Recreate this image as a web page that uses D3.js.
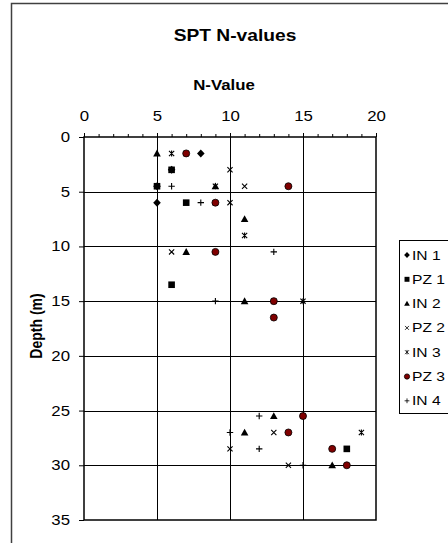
<!DOCTYPE html>
<html>
<head>
<meta charset="utf-8">
<script src="https://cdn.jsdelivr.net/npm/d3@7"></script>
<style>
  body { margin: 0; background: #fff; }
  svg { display: block; font-family: Arial, "Liberation Sans", sans-serif; }
</style>
</head>
<body>
<svg id="chart" width="448" height="543"></svg>
<script>
// series: [N-value, depth]
var in1 = [[8, 1.5], [6, 3], [5, 4.5], [5, 6]];
var pz1 = [[6, 3], [5, 4.5], [7, 6], [6, 13.5], [18, 28.5]];
var in2 = [[5, 1.5], [9, 4.5], [11, 7.5], [7, 10.5], [11, 15], [13, 25.5], [11, 27], [17, 30]];
var pz2 = [[7, 1.5], [10, 3], [11, 4.5], [10, 6], [6, 10.5], [13, 15], [15, 25.5], [13, 27], [10, 28.5], [14, 30]];
var in3 = [[6, 1.5], [9, 4.5], [9, 6], [11, 9], [15, 15], [19, 27]];
var pz3 = [[7, 1.5], [14, 4.5], [9, 6], [9, 10.5], [13, 15], [13, 16.5], [15, 25.5], [14, 27], [17, 28.5], [18, 30]];
var in4 = [[6, 4.5], [8, 6], [13, 10.5], [9, 15], [12, 25.5], [10, 27], [12, 28.5], [15, 30]];

var seriesNames = ["IN 1", "PZ 1", "IN 2", "PZ 2", "IN 3", "PZ 3", "IN 4"];
var seriesData = [in1, pz1, in2, pz2, in3, pz3, in4];
var seriesShapes = ["diamond", "square", "triangle", "cross", "star", "circle", "plus"];

var xTicks = [0, 5, 10, 15, 20];
var yTicks = [0, 5, 10, 15, 20, 25, 30, 35];

var sx = 1.2; // the original picture is a bit stretched sideways

var svg = d3.select("#chart");

// outer chart frame
svg.append("rect")
   .attr("x", 11.5).attr("y", 3.5)
   .attr("width", 460).attr("height", 560)
   .attr("fill", "#fff")
   .attr("stroke", "#404040")
   .attr("stroke-width", 1.5);

var x = d3.scaleLinear().domain([0, 20]).range([84, 376]);
var y = d3.scaleLinear().domain([0, 35]).range([137, 520]);

// grid
var grid = svg.append("g").attr("stroke", "#000").attr("stroke-width", 1);
grid.selectAll("line.v")
   .data([5, 10, 15])
   .enter().append("line")
   .attr("x1", d => Math.round(x(d)) + 0.5).attr("x2", d => Math.round(x(d)) + 0.5)
   .attr("y1", y(0)).attr("y2", y(35));
grid.selectAll("line.h")
   .data([5, 10, 15, 20, 25, 30])
   .enter().append("line")
   .attr("y1", d => Math.round(y(d)) + 0.5).attr("y2", d => Math.round(y(d)) + 0.5)
   .attr("x1", x(0)).attr("x2", x(20));

// plot border
svg.append("rect")
   .attr("x", x(0)).attr("y", y(0))
   .attr("width", x(20) - x(0)).attr("height", y(35) - y(0))
   .attr("fill", "none").attr("stroke", "#000").attr("stroke-width", 1.5);

// top axis (minor ticks every 1)
svg.append("g")
   .attr("transform", "translate(0," + y(0) + ")")
   .call(d3.axisTop(x).tickValues(d3.range(0, 21)).tickSize(3).tickFormat(""))
   .call(g => g.select(".domain").remove());
svg.append("g")
   .attr("transform", "translate(0," + y(0) + ")")
   .call(d3.axisTop(x).tickValues(xTicks).tickSize(4).tickPadding(12))
   .call(g => g.select(".domain").remove())
   .call(g => g.selectAll("text")
      .attr("font-size", 14).attr("fill", "#000").attr("font-family", null)
      .attr("transform", "scale(" + sx + ",1)"));

// left axis
svg.append("g")
   .attr("transform", "translate(" + x(0) + ",0)")
   .call(d3.axisLeft(y).tickValues(yTicks).tickSize(5))
   .call(g => g.select(".domain").remove())
   .call(g => g.selectAll("text")
      .attr("x", 0)
      .attr("font-size", 14).attr("fill", "#000").attr("font-family", null)
      .attr("transform", "translate(-14,0) scale(" + sx + ",1)"));

// titles
function label(txt, cx, cy, size) {
   svg.append("text")
      .attr("transform", "translate(" + cx + "," + cy + ") scale(" + sx + ",1)")
      .attr("text-anchor", "middle")
      .attr("font-size", size).attr("font-weight", "bold")
      .text(txt);
}
label("SPT N-values", 235, 41, 16);
label("N-Value", 224, 90, 14);
svg.append("text")
   .attr("transform", "translate(42,326) rotate(-90) scale(1," + sx + ")")
   .attr("text-anchor", "middle")
   .attr("font-size", 14).attr("font-weight", "bold")
   .text("Depth (m)");

// marker drawing
function marker(g, shape, s) {
   if (shape === "diamond") {
      g.append("path").attr("d", "M0,-4L3.8,0L0,4L-3.8,0Z").attr("transform", "scale(" + s + ")").attr("fill", "#000");
   } else if (shape === "square") {
      g.append("rect").attr("x", -3.3 * s).attr("y", -3.3 * s).attr("width", 6.6 * s).attr("height", 6.6 * s).attr("fill", "#000");
   } else if (shape === "triangle") {
      g.append("path").attr("d", "M0,-3.8L3.8,3L-3.8,3Z").attr("transform", "scale(" + s + ")").attr("fill", "#000");
   } else if (shape === "cross") {
      g.append("path").attr("d", "M-2.6,-2.6L2.6,2.6M-2.6,2.6L2.6,-2.6").attr("transform", "scale(" + s + ")")
         .attr("stroke", "#000").attr("stroke-width", 1.1);
   } else if (shape === "star") {
      g.append("path").attr("d", "M-2.6,-2.6L2.6,2.6M-2.6,2.6L2.6,-2.6M0,-3L0,3").attr("transform", "scale(" + s + ")")
         .attr("stroke", "#000").attr("stroke-width", 1.1);
   } else if (shape === "circle") {
      g.append("circle").attr("r", 3.5 * s).attr("fill", "#800000").attr("stroke", "#000").attr("stroke-width", 0.8);
   } else if (shape === "plus") {
      g.append("path").attr("d", "M-3.2,0L3.2,0M0,-3.2L0,3.2").attr("transform", "scale(" + s + ")")
         .attr("stroke", "#000").attr("stroke-width", 1.1);
   }
}

seriesData.forEach(function (data, i) {
   svg.append("g").selectAll("g")
      .data(data)
      .enter().append("g")
      .attr("transform", d => "translate(" + x(d[0]) + "," + y(d[1]) + ")")
      .each(function () { marker(d3.select(this), seriesShapes[i], 1); });
});

// legend
var legend = svg.append("g");
legend.append("rect")
   .attr("x", 399.5).attr("y", 240.5)
   .attr("width", 80).attr("height", 173)
   .attr("fill", "#fff").attr("stroke", "#000").attr("stroke-width", 1);
var items = legend.selectAll("g.item")
   .data(seriesNames)
   .enter().append("g")
   .attr("transform", (d, i) => "translate(407," + (255 + i * 24.3) + ")");
items.each(function (d, i) { marker(d3.select(this), seriesShapes[i], 0.75); });
items.append("text")
   .attr("transform", "translate(5,0) scale(" + sx + ",1)")
   .attr("dy", "0.35em")
   .attr("font-size", 13)
   .text(d => d);
</script>
</body>
</html>
